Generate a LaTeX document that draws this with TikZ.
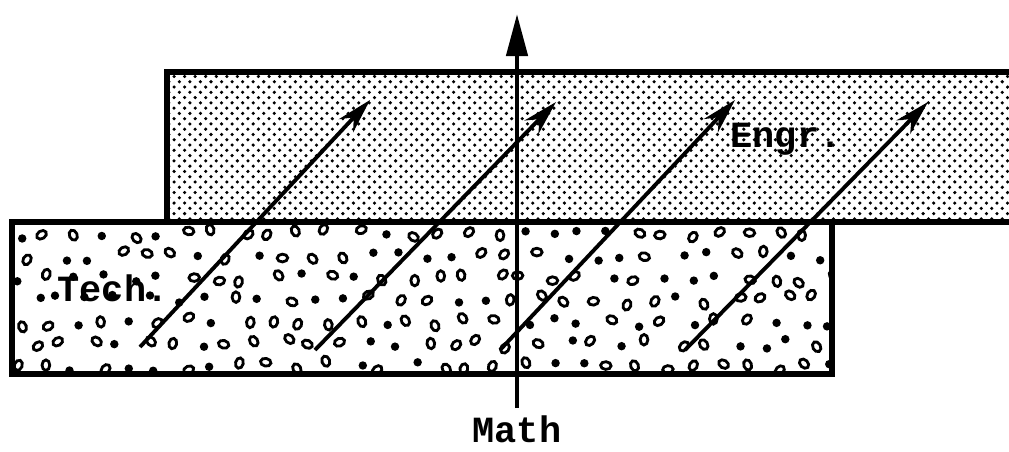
\documentclass[tikz,border=0pt]{standalone}
\usepackage{fontspec}
\setmonofont{Liberation Mono}
\usepackage{tikz}
\usetikzlibrary{arrows.meta, patterns, positioning}
\tikzstyle{band} = [line width=1.5pt, line join=miter]
\tikzstyle{move} = [line width=1.1pt, -{Stealth[length=10pt,width=5.5pt]}]
\tikzstyle{mathaxis} = [line width=1.3pt, -{Triangle[length=12pt,width=6pt]}]
\tikzstyle{lbl} = [font=\ttfamily\bfseries\fontsize{10.5}{12}\selectfont, inner sep=1pt]
\tikzstyle{hole} = [line width=0.8pt]
\tikzstyle{grain} = [fill=black]

\begin{document}
\begin{tikzpicture}[x=0.01cm, y=-0.01cm, >=Stealth]
\useasboundingbox (0,0) rectangle (1009,451);

% Engr. band
\fill[pattern=crosshatch dots] (167,72) rectangle (1012,222);
\draw[band] (1012,72) -- (167,72) -- (167,222);

% Tech. band
\begin{scope}
\clip (12,222) rectangle (832,374);
\pgfmathsetseed{11}
\foreach \r in {0,...,6}{
  \foreach \c in {0,...,29}{
    \pgfmathsetmacro\px{20+\c*28+mod(\r,2)*14+(rnd-0.5)*14}
    \pgfmathsetmacro\py{234+\r*22+(rnd-0.5)*10}
    \pgfmathsetmacro\ang{rnd*180}
    \pgfmathtruncatemacro\kind{rnd<0.55 ? 1 : 0}
    \ifnum\kind=1
      \draw[hole, rotate around={\ang:(\px,\py)}] (\px,\py) ellipse [x radius=1.5pt, y radius=1.1pt];
    \else
      \fill[grain] (\px,\py) circle [radius=1.2pt];
    \fi
  }
}
\end{scope}
\draw[band] (12,222) rectangle (832,374);
\draw[band] (832,222) -- (1012,222);

\node[lbl] (tech) at (113,288) {Tech.};
\node[lbl] (engr) at (786,139) {Engr.};

% Math axis
\coordinate (mbot) at (517,408);
\coordinate (mtop) at (517,14);
\draw[mathaxis] (mbot) -- (mtop);
\node[lbl, below=1pt of mbot] (math) {Math};

% transfer arrows
\foreach \i/\sx/\sy/\tx/\ty in {1/140/347/370/100, 2/315/350/556/102, 3/500/350/735/100, 4/685/350/928/102}{
  \coordinate (s\i) at (\sx,\sy);
  \coordinate (t\i) at (\tx,\ty);
  \draw[move] (s\i) -- (t\i);
}
\end{tikzpicture}
\end{document}
